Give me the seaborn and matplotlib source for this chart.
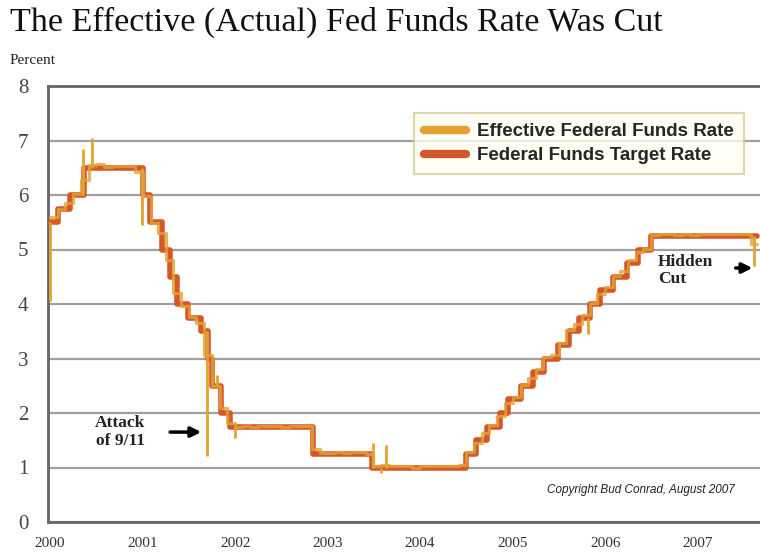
import pandas as pd
import numpy as np
import matplotlib.pyplot as plt
import seaborn as sns
from matplotlib.lines import Line2D

# 联邦基金目标利率：调整日期与水平
target_dates = ['1999-12-31', '2000-02-02', '2000-03-21', '2000-05-16',
                '2001-01-03', '2001-01-31', '2001-03-20', '2001-04-18', '2001-05-15',
                '2001-06-27', '2001-08-21', '2001-09-17', '2001-10-02', '2001-11-06',
                '2001-12-11', '2002-11-06', '2003-06-25', '2004-06-30', '2004-08-10',
                '2004-09-21', '2004-11-10', '2004-12-14', '2005-02-02', '2005-03-22',
                '2005-05-03', '2005-06-30', '2005-08-09', '2005-09-20', '2005-11-01',
                '2005-12-13', '2006-01-31', '2006-03-28', '2006-05-10', '2006-06-29',
                '2007-08-24']
target_rates = [5.50, 5.75, 6.00, 6.50,
                6.00, 5.50, 5.00, 4.50, 4.00,
                3.75, 3.50, 3.00, 2.50, 2.00,
                1.75, 1.25, 1.00, 1.25, 1.50,
                1.75, 2.00, 2.25, 2.50, 2.75,
                3.00, 3.25, 3.50, 3.75, 4.00,
                4.25, 4.50, 4.75, 5.00, 5.25,
                5.25]

# 有效联邦基金利率：月度读数（2000-01 至 2007-08）
eff_start = '2000-01-01'
eff_rates = [5.60, 5.75, 5.85, 6.02, 6.27, 6.55, 6.56, 6.52, 6.54, 6.53, 6.53, 6.42,
             5.98, 5.49, 5.31, 4.80, 4.21, 3.97, 3.77, 3.65, 3.07, 2.49, 2.09, 1.82,
             1.75, 1.76, 1.75, 1.77, 1.77, 1.77, 1.75, 1.76, 1.77, 1.77, 1.34, 1.27,
             1.26, 1.28, 1.27, 1.28, 1.28, 1.24, 1.03, 1.05, 1.03, 1.03, 1.02, 1.00,
             1.02, 1.03, 1.02, 1.02, 1.02, 1.05, 1.28, 1.45, 1.63, 1.78, 1.95, 2.18,
             2.30, 2.52, 2.65, 2.81, 3.02, 3.06, 3.28, 3.52, 3.64, 3.80, 4.02, 4.18,
             4.31, 4.51, 4.61, 4.81, 4.96, 5.01, 5.26, 5.28, 5.28, 5.27, 5.28, 5.26,
             5.28, 5.29, 5.28, 5.28, 5.28, 5.28, 5.29, 5.10]

# 有效利率的单日尖峰
spike_dates = ['1999-12-31', '2000-05-12', '2000-06-15', '2000-12-29', '2001-09-12',
               '2001-10-22', '2001-12-31', '2003-06-30', '2003-07-31', '2003-08-20',
               '2005-10-25', '2007-08-10']
spike_values = [4.05, 6.85, 7.05, 5.45, 1.22,
                2.70, 1.55, 1.45, 0.90, 1.42,
                3.45, 4.70]

years = list(range(2000, 2008))

c_eff = '#E3A232'
c_tgt = '#D4572A'

sns.set_style('white')
plt.rcParams['font.family'] = ['Liberation Serif', 'DejaVu Serif']

tgt = pd.DataFrame({'date': pd.to_datetime(target_dates), 'rate': target_rates})
eff_idx = pd.date_range(eff_start, periods=len(eff_rates), freq='MS')
eff = pd.DataFrame({'date': list(eff_idx) + [pd.Timestamp('2007-08-24')],
                    'rate': eff_rates + [eff_rates[-1]]})
tgt_s = tgt.set_index('date')['rate']
sp = pd.DataFrame({'date': pd.to_datetime(spike_dates), 'rate': spike_values})
sp['base'] = [tgt_s.asof(d) for d in sp['date']]

fig = plt.figure(figsize=(7.6, 5.54), dpi=100)
ax = fig.add_axes([48 / 760, 1 - 522 / 554, 712 / 760, 436 / 554])

sns.lineplot(data=tgt, x='date', y='rate', ax=ax, color=c_tgt, lw=4,
             drawstyle='steps-post', zorder=3)
sns.lineplot(data=eff, x='date', y='rate', ax=ax, color=c_eff, lw=2.3,
             drawstyle='steps-post', zorder=4, alpha=0.8)
ax.vlines(sp['date'], sp['base'], sp['rate'], color=c_eff, lw=2, zorder=4)

ax.set_xlim(pd.Timestamp('1999-12-24'), pd.Timestamp('2007-09-04'))
ax.set_ylim(0, 8)
ax.set_yticks(range(0, 9))
ax.set_xticks([pd.Timestamp(f'{y}-01-01') for y in years])
ax.set_xticklabels([str(y) for y in years], fontsize=11, color='#333333')
ax.tick_params(axis='x', length=0, pad=11)
ax.tick_params(axis='y', length=9, width=1.2, color='#777777', pad=5,
               labelsize=15, labelcolor='#444444')
ax.set_xlabel('')
ax.set_ylabel('')
ax.grid(axis='y', color='#a0a0a0', lw=1.6, zorder=0)
ax.set_axisbelow(True)
for side in ['left', 'bottom', 'top']:
    ax.spines[side].set_color('#666666')
    ax.spines[side].set_linewidth(2)
ax.spines['right'].set_visible(False)

handles = [Line2D([], [], color=c_eff, lw=6),
           Line2D([], [], color=c_tgt, lw=6)]
leg = ax.legend(handles, ['Effective Federal Funds Rate', 'Federal Funds Target Rate'],
                loc='upper right', bbox_to_anchor=(0.9775, 0.938),
                prop={'family': 'Liberation Sans', 'weight': 'bold', 'size': 13.5},
                frameon=True, fancybox=False, handlelength=2.2, handletextpad=0.6,
                labelspacing=0.35, borderpad=0.55, borderaxespad=0)
leg.get_frame().set_facecolor('#FFFEF2')
leg.get_frame().set_edgecolor('#D8CC98')
leg.get_frame().set_linewidth(1.5)
leg.set_zorder(6)

ax.text(pd.Timestamp('2000-10-05'), 1.65, 'Attack\nof 9/11', ha='center', va='center',
        fontsize=12.5, fontweight='bold', color='#222222', linespacing=1.1)
ax.annotate('', xy=(pd.Timestamp('2001-08-31'), 1.65), xytext=(pd.Timestamp('2001-04-08'), 1.65),
            arrowprops=dict(arrowstyle='-|>,head_length=0.6,head_width=0.3', lw=2.5, color='black'))
ax.text(pd.Timestamp('2006-07-29'), 4.62, 'Hidden\nCut', ha='left', va='center',
        fontsize=12.5, fontweight='bold', color='#222222', linespacing=1.1)
ax.annotate('', xy=(pd.Timestamp('2007-08-16'), 4.66), xytext=(pd.Timestamp('2007-05-20'), 4.66),
            arrowprops=dict(arrowstyle='-|>,head_length=0.6,head_width=0.3', lw=2.5, color='black'))

ax.text(0.965, 0.073, 'Copyright Bud Conrad, August 2007', transform=ax.transAxes,
        ha='right', va='center', fontsize=8.5, style='italic',
        family='Liberation Sans', color='#222222')

fig.text(10 / 760, 1 - 22 / 554, 'The Effective (Actual) Fed Funds Rate Was Cut',
         ha='left', va='center', fontsize=24.5, color='#111111')
fig.text(10 / 760, 1 - 61 / 554, 'Percent', ha='left', va='center',
         fontsize=11, color='#222222')

plt.savefig('out.png', dpi=100)
